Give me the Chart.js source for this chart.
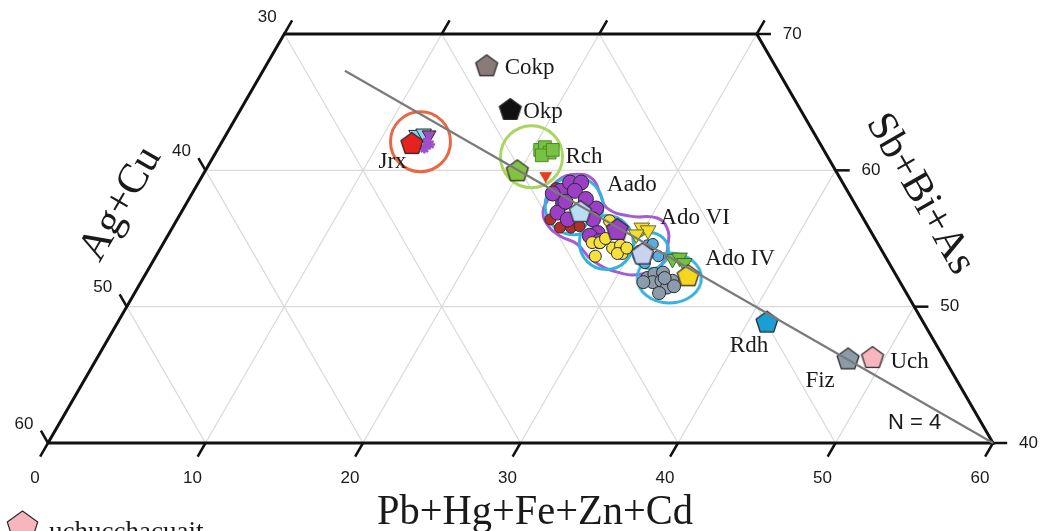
<!DOCTYPE html>
<html>
<head>
<meta charset="utf-8">
<script src="https://cdn.jsdelivr.net/npm/chart.js@4.4.1/dist/chart.umd.min.js"></script>
<style>
html,body{margin:0;padding:0;background:#fff;overflow:hidden}
#wrap{width:1041px;height:531px;position:relative}
</style>
</head>
<body>
<div id="wrap"><canvas id="c" width="1041" height="531"></canvas></div>
<script>
// ===== DATA: ternary compositions [Pb+Hg+Fe+Zn+Cd, Ag+Cu, Sb+Bi+As] =====
const bottomTicks = [0, 10, 20, 30, 40, 50, 60];   // Pb+Hg+Fe+Zn+Cd
const leftTicks   = [30, 40, 50, 60];              // Ag+Cu
const rightTicks  = [70, 60, 50, 40];              // Sb+Bi+As
const topTicks    = [0, 10, 20, 30];               // Pb+... along upper edge (unlabelled)
const gridPb = [10, 20, 30, 40, 50];
const gridAg = [10, 20, 30, 40, 50];
const gridSb = [50, 60];

const axisTitles = { bottom: 'Pb+Hg+Fe+Zn+Cd', left: 'Ag+Cu', right: 'Sb+Bi+As' };
const noteText = 'N = 4';
const legendText = 'uchucchacuait';

const trendLine = [[5.2, 27.5, 67.3], [60, 0, 40]];

// minerals (single compositions)
const cokp = [[14.0, 18.3, 67.7]];
const okp  = [[17.1, 18.4, 64.5]];
const rdh  = [[41.2, 9.9, 48.9]];
const fiz  = [[47.7, 6.1, 46.2]];
const uch  = [[49.2, 4.5, 46.3]];

// Jrx group
const jrxMean      = [[12.1, 25.9, 62.0]];
const jrxBlueTri   = [[12.1, 25.3, 62.6], [12.5, 24.8, 62.7]];
const jrxPurpleTri = [[12.9, 24.5, 62.6]];
const jrxPurpleX   = [[13.0, 24.9, 62.1], [13.1, 25.3, 61.6], [13.3, 24.8, 61.9]];

// Rch group
const rchMean    = [[19.8, 20.2, 60.0]];
const rchSquares = [[20.5, 18.0, 61.5], [20.7, 17.6, 61.7], [21.2, 17.5, 61.3], [20.8, 18.1, 61.1], [21.3, 17.2, 61.5]];
const redTri     = [[21.8, 18.6, 59.6]];

// Aado group
const aadoPurple = [[23.3, 18.2, 58.5], [23.6, 17.3, 59.1], [24.3, 16.6, 59.1], [24.2, 17.3, 58.5], [23.9, 18.5, 57.6],
                    [23.9, 19.2, 56.9], [24.8, 18.8, 56.4], [26.2, 16.6, 57.2], [26.4, 17.2, 56.4], [22.9, 18.8, 58.3],
                    [27.2, 17.4, 55.4], [26.8, 18.0, 55.2], [27.6, 17.6, 54.8], [24.0, 18.3, 57.7], [25.2, 16.9, 57.9]];
const aadoRed    = [[22.9, 18.9, 58.2], [23.7, 19.9, 56.4], [25.3, 18.9, 55.8], [25.8, 18.3, 55.9], [24.6, 19.6, 55.8], [22.9, 18.4, 58.7]];
const aadoMean   = [[25.3, 17.7, 57.0]];

// Ado VI group
const adoVIYellow = [[27.2, 18.1, 54.7], [27.7, 17.6, 54.7], [27.9, 18.4, 53.7], [28.7, 17.0, 54.3], [29.1, 16.4, 54.5],
                     [29.5, 16.6, 53.9], [29.2, 16.9, 53.9], [29.6, 16.1, 54.3], [27.5, 16.2, 56.3], [27.9, 17.1, 55.0]];
const adoVIMean   = [[28.3, 16.0, 55.7]];
const adoVITri    = [[29.8, 14.4, 55.8], [30.3, 14.1, 55.6], [29.7, 15.0, 55.3]];
const blueSmall   = [[30.8, 14.7, 54.5], [31.1, 14.3, 54.6], [30.5, 15.4, 54.1], [31.3, 15.5, 53.2], [31.9, 14.4, 53.7]];
const blueSmallMean = [[30.8, 15.3, 53.9]];

// Ado IV group
const adoIVGray  = [[32.0, 15.9, 52.1], [32.3, 15.3, 52.4], [32.8, 14.7, 52.5], [32.5, 15.7, 51.8], [33.0, 15.1, 51.9],
                    [33.6, 15.0, 51.4], [33.3, 15.7, 51.0], [33.7, 14.4, 51.9], [31.9, 16.3, 51.8], [33.1, 14.8, 52.1], [34.0, 14.5, 51.5]];
const adoIVMean  = [[34.5, 13.2, 52.3]];
const adoIVTri   = [[32.9, 13.6, 53.5], [33.3, 13.1, 53.6], [33.8, 13.0, 53.2]];

// field outlines (centres of enclosing circles and the Aado–Ado VI envelope)
const jrxField   = [[12.6, 25.3, 62.1]];
const rchField   = [[20.2, 18.8, 61.0]];
const aadoField  = [[24.7, 17.9, 57.4]];
const adoVIField = [[28.1, 17.2, 54.7]];
const smallField = [[31.2, 14.7, 54.1]];
const adoIVField = [[33.4, 14.5, 52.1]];
const envelope = [[22.81, 19.31, 57.88], [22.72, 18.08, 59.2], [23.74, 16.55, 59.71], [24.93, 15.73, 59.34], [25.93, 15.82, 58.25],
                  [26.88, 15.89, 57.23], [28.63, 14.73, 56.64], [30.42, 13.08, 56.5], [31.42, 12.81, 55.77], [32.07, 13.33, 54.6],
                  [32.41, 14.45, 53.14], [31.58, 16.01, 52.41], [30.08, 17.44, 52.48], [27.92, 18.72, 53.36], [26.29, 19.11, 54.6],
                  [24.92, 19.9, 55.18], [23.65, 20.29, 56.06], [22.93, 20.06, 57.01], [22.81, 19.31, 57.88]];

// ===== ternary -> plotting coordinates (x in Pb units, y = Sb) =====
function T(p) {
  const s = p[0] + p[1] + p[2];
  const pb = 100 * p[0] / s, sb = 100 * p[2] / s;
  return { x: pb + (sb - 40) / 2, y: sb };
}

function pentagon(fill, stroke, R, lw) {
  const pad = lw + 1;
  const size = Math.ceil(2 * R + 2 * pad);
  const c = document.createElement('canvas');
  c.width = size; c.height = size;
  const g = c.getContext('2d');
  const cy = size / 2 + R * 0.095;
  g.beginPath();
  for (let i = 0; i < 5; i++) {
    const a = -Math.PI / 2 + i * 2 * Math.PI / 5;
    const x = size / 2 + R * Math.cos(a), y = cy + R * Math.sin(a);
    if (i === 0) g.moveTo(x, y); else g.lineTo(x, y);
  }
  g.closePath();
  g.fillStyle = fill; g.fill();
  g.lineWidth = lw; g.strokeStyle = stroke; g.lineJoin = 'round'; g.stroke();
  return c;
}
function ellipseImg(rx, ry, stroke, lw) {
  const c = document.createElement('canvas');
  c.width = Math.ceil(2 * rx + 2 * lw + 2); c.height = Math.ceil(2 * ry + 2 * lw + 2);
  const g = c.getContext('2d');
  g.beginPath(); g.ellipse(c.width / 2, c.height / 2, rx, ry, 0, 0, Math.PI * 2);
  g.lineWidth = lw; g.strokeStyle = stroke; g.stroke();
  return c;
}

const layers = []; // bottom -> top
function seg(a, b, color, width) {
  layers.push({ data: [T(a), T(b)], showLine: true, borderColor: color, borderWidth: width, pointRadius: 0, clip: false, fill: false, borderCapStyle: 'butt' });
}
function pts(arr, o) {
  layers.push(Object.assign({ data: arr.map(T), showLine: false, clip: false }, o));
}

// grid
const GC = '#d9d9d9';
gridPb.forEach(v => seg([v, 60 - v, 40], v <= 30 ? [v, 30 - v, 70] : [v, 0, 100 - v], GC, 1.2));
gridAg.forEach(v => seg([60 - v, v, 40], v <= 30 ? [30 - v, v, 70] : [0, v, 100 - v], GC, 1.2));
gridSb.forEach(v => seg([0, 100 - v, v], [100 - v, 0, v], GC, 1.2));

// frame
layers.push({ data: [[0, 60, 40], [60, 0, 40], [30, 0, 70], [0, 30, 70], [0, 60, 40]].map(T), showLine: true,
  borderColor: '#111', borderWidth: 3, pointRadius: 0, clip: false, fill: false, borderJoinStyle: 'miter' });
// ticks
bottomTicks.forEach(v => seg([v, 60 - v, 40], [v, 61 - v, 39], '#111', 2.5));
leftTicks.filter(v => v !== 30).forEach(v => seg([0, v, 100 - v], [-0.9, v, 100.9 - v], '#111', 2.5));
topTicks.forEach(v => seg([v, 30 - v, 70], [v, 29 - v, 71], '#111', 2.5));
rightTicks.forEach(v => seg([100 - v, 0, v], [100.9 - v, -0.9, v], '#111', 2.5));

// field outlines
layers.push({ data: envelope.map(T), showLine: true, tension: 0.45, borderColor: '#a45bd3', borderWidth: 3, pointRadius: 0, clip: false, fill: false });
const ring = (arr, r, color) => pts(arr, { pointStyle: 'circle', pointRadius: r, pointBackgroundColor: 'rgba(0,0,0,0)', pointBorderColor: color, pointBorderWidth: 3 });
ring(jrxField, 30, '#ea6743');
ring(rchField, 31, '#a9d65f');
ring(aadoField, 29, '#34b1dc');
ring(adoVIField, 27, '#34b1dc');
ring(smallField, 18, '#34b1dc');
pts(adoIVField, { pointStyle: ellipseImg(32, 25, '#34b1dc', 3), pointRadius: 20 });

// analyses
const EDGE = '#2b2b2b';
pts(rchSquares, { pointStyle: 'rect', pointRadius: 9, pointBackgroundColor: '#79c143', pointBorderColor: '#4d8a26', pointBorderWidth: 1 });
pts(redTri, { pointStyle: 'triangle', rotation: 180, pointRadius: 7, pointBackgroundColor: '#e2401f', pointBorderColor: '#e2401f', pointBorderWidth: 0.5 });
pts(jrxBlueTri, { pointStyle: 'triangle', rotation: 180, pointRadius: 9, pointBackgroundColor: '#8fd2ec', pointBorderColor: EDGE, pointBorderWidth: 1 });
pts(jrxPurpleTri, { pointStyle: 'triangle', rotation: 180, pointRadius: 8, pointBackgroundColor: '#9b4fc2', pointBorderColor: EDGE, pointBorderWidth: 1 });
pts(jrxPurpleX, { pointStyle: 'star', pointRadius: 5, pointBackgroundColor: '#a04fc8', pointBorderColor: '#a04fc8', pointBorderWidth: 2.5 });
pts(aadoRed, { pointStyle: 'circle', pointRadius: 5.5, pointBackgroundColor: '#b3302a', pointBorderColor: EDGE, pointBorderWidth: 1 });
pts(aadoPurple, { pointStyle: 'circle', pointRadius: 7.5, pointBackgroundColor: '#9a3fc6', pointBorderColor: EDGE, pointBorderWidth: 1 });
pts(adoVIYellow, { pointStyle: 'circle', pointRadius: 6, pointBackgroundColor: '#f6e03c', pointBorderColor: EDGE, pointBorderWidth: 1 });
pts(adoVITri, { pointStyle: 'triangle', rotation: 180, pointRadius: 9, pointBackgroundColor: '#f4df2e', pointBorderColor: '#6e6430', pointBorderWidth: 1 });
pts(blueSmall, { pointStyle: 'circle', pointRadius: 5.5, pointBackgroundColor: '#5cacdf', pointBorderColor: EDGE, pointBorderWidth: 1 });
pts(adoIVGray, { pointStyle: 'circle', pointRadius: 6.5, pointBackgroundColor: '#8d9cac', pointBorderColor: EDGE, pointBorderWidth: 1 });
pts(adoIVTri, { pointStyle: 'triangle', rotation: 180, pointRadius: 9, pointBackgroundColor: '#74c043', pointBorderColor: '#3b6b1f', pointBorderWidth: 1 });

// mean compositions / minerals (pentagons)
const pent = (arr, fill) => pts(arr, { pointStyle: pentagon(fill, EDGE, 11.5, 1.3), pointRadius: 11 });
pent(jrxMean, '#e5221d');
pent(rchMean, '#85c240');
pent(aadoMean, '#b9def3');
pent(adoVIMean, '#9b3fc4');
pent(blueSmallMean, '#c9d3ef');
pent(adoIVMean, '#f6d61f');
pent(cokp, '#8a7b78');
pent(okp, '#111111');
pent(rdh, '#1b9ed3');
pent(fiz, '#8c9ba9');
pent(uch, '#f9b5bd');

// trend line
layers.push({ data: trendLine.map(T), showLine: true, borderColor: '#7a7a7a', borderWidth: 2.2, pointRadius: 0, clip: false, fill: false });

layers.forEach((d, i) => { d.order = layers.length - i; d.type = 'scatter'; });

// labels: anchor composition + pixel offset (style)
const annotations = [
  { text: 'Cokp',   at: cokp[0],       dx: 18,  dy: 3,  align: 'left' },
  { text: 'Okp',    at: okp[0],        dx: 13,  dy: 3,  align: 'left' },
  { text: 'Rch',    at: rchField[0],   dx: 34,  dy: 0,  align: 'left' },
  { text: 'Jrx',    at: jrxField[0],   dx: -42, dy: 20, align: 'left' },
  { text: 'Aado',   at: aadoField[0],  dx: 33,  dy: -21, align: 'left' },
  { text: 'Ado VI', at: adoVIField[0], dx: 54,  dy: -25, align: 'left' },
  { text: 'Ado IV', at: adoIVField[0], dx: 36,  dy: -19, align: 'left' },
  { text: 'Rdh',    at: rdh[0],        dx: -18, dy: 24, align: 'center' },
  { text: 'Fiz',    at: fiz[0],        dx: -28, dy: 22, align: 'center' },
  { text: 'Uch',    at: uch[0],        dx: 18,  dy: 5,  align: 'left' }
];

const textPlugin = {
  id: 'ternaryText',
  afterDatasetsDraw(chart) {
    const ctx = chart.ctx, xs = chart.scales.x, ys = chart.scales.y;
    const px = p => { const c = T(p); return [xs.getPixelForValue(c.x), ys.getPixelForValue(c.y)]; };
    ctx.save();
    ctx.fillStyle = '#1a1a1a';
    // tick labels
    ctx.font = '17px "Liberation Sans", Arial, sans-serif';
    ctx.textBaseline = 'middle';
    ctx.textAlign = 'center';
    bottomTicks.forEach(v => { const [x, y] = px([v, 60 - v, 40]); ctx.fillText(String(v), x - 13, y + 35); });
    leftTicks.forEach(v => {
      const [x, y] = px([0, v, 100 - v]);
      if (v === 30) ctx.fillText(String(v), x - 17, y - 17);
      else ctx.fillText(String(v), x - 24, y - 19);
    });
    ctx.textAlign = 'left';
    rightTicks.forEach(v => { const [x, y] = px([100 - v, 0, v]); ctx.fillText(String(v), x + 26, y); });

    // N = 4
    ctx.font = '22px "Liberation Sans", Arial, sans-serif';
    ctx.fillText(noteText, 888, 423);

    // point labels
    ctx.font = '23px "Liberation Serif", "Times New Roman", serif';
    annotations.forEach(a => {
      const [x, y] = px(a.at);
      ctx.textAlign = a.align;
      ctx.fillText(a.text, x + a.dx, y + a.dy);
    });

    // axis titles
    ctx.font = '42px "Liberation Serif", "Times New Roman", serif';
    ctx.textAlign = 'center';
    ctx.textBaseline = 'alphabetic';
    ctx.fillText(axisTitles.bottom, 535, 524, 316);
    ctx.textBaseline = 'middle';
    ctx.save(); ctx.translate(121, 204); ctx.rotate(-Math.PI / 3); ctx.fillText(axisTitles.left, 0, 0, 125); ctx.restore();
    ctx.save(); ctx.translate(920, 194); ctx.rotate(Math.PI / 3); ctx.fillText(axisTitles.right, 0, 0, 182); ctx.restore();

    // legend (partially cut at the bottom like the source)
    const R = 16, cx = 22.5, cy = 527;
    ctx.beginPath();
    for (let i = 0; i < 5; i++) {
      const a = -Math.PI / 2 + i * 2 * Math.PI / 5;
      const x = cx + R * Math.cos(a), y = cy + R * Math.sin(a);
      if (i === 0) ctx.moveTo(x, y); else ctx.lineTo(x, y);
    }
    ctx.closePath();
    ctx.fillStyle = '#f9b5bd'; ctx.fill();
    ctx.lineWidth = 1.2; ctx.strokeStyle = '#2b2b2b'; ctx.stroke();
    ctx.fillStyle = '#1a1a1a';
    ctx.font = '27px "Liberation Serif", "Times New Roman", serif';
    ctx.textAlign = 'left'; ctx.textBaseline = 'alphabetic';
    ctx.fillText(legendText, 49, 540);
    ctx.restore();
  }
};

new Chart(document.getElementById('c'), {
  type: 'scatter',
  data: { datasets: layers },
  options: {
    responsive: false,
    animation: false,
    devicePixelRatio: 1,
    events: [],
    layout: { padding: { left: 48, right: 48, top: 32, bottom: 88 } },
    scales: {
      x: { type: 'linear', min: 0, max: 60, display: false },
      y: { type: 'linear', min: 40, max: 70, display: false }
    },
    plugins: { legend: { display: false }, tooltip: { enabled: false } }
  },
  plugins: [textPlugin]
});
</script>
</body>
</html>
